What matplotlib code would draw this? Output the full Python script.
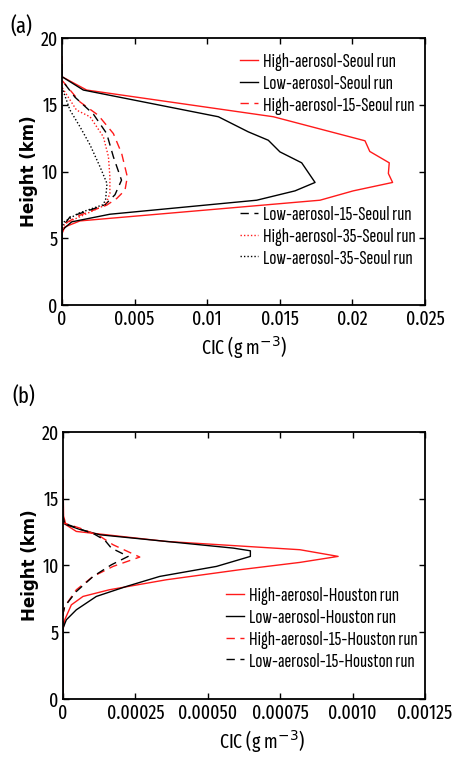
import matplotlib
matplotlib.use("Agg")
import matplotlib.pyplot as plt

NARROW = ['Fira Sans Extra Condensed', 'PT Sans Narrow', 'DejaVu Sans']
LEGFONT = ['Sofia Sans Extra Condensed', 'Fira Sans Extra Condensed', 'DejaVu Sans']
plt.rcParams['font.family'] = NARROW

# ---------------- Panel (a): Seoul ----------------
h_hi_seoul = [0, 5.35, 5.85, 6.3, 7.85, 8.55, 9.18, 9.85, 10.65, 11.5, 12.3, 14.1, 16.1, 17.1, 18.6]
x_hi_seoul = [0, 0, 0.0002, 0.00124, 0.01777, 0.02006, 0.02277, 0.02248, 0.02254, 0.0212, 0.02087, 0.01456, 0.0017, 0, 0]

h_lo_seoul = [0, 5.6, 6.23, 6.8, 7.85, 8.55, 9.18, 10.65, 11.47, 12.34, 12.97, 14.1, 16.1, 17.1, 18.0]
x_lo_seoul = [0, 0, 0.00067, 0.0033, 0.01341, 0.01605, 0.01743, 0.01651, 0.01501, 0.01421, 0.01283, 0.01077, 0.00147, 0, 0]

h_hi15_seoul = [0, 5.6, 6.1, 6.73, 7.48, 7.98, 8.6, 9.6, 11.35, 12.84, 14.21, 15.21, 16.83]
x_hi15_seoul = [0, 0, 0.0002, 0.00124, 0.00308, 0.00377, 0.00434, 0.0045, 0.00411, 0.00354, 0.0025, 0.00124, 0]

h_lo15_seoul = [0, 5.8, 6.6, 7.5, 8.26, 9.35, 11.1, 12.84, 14.3, 15.56, 16.83]
x_lo15_seoul = [0, 0, 0.00055, 0.00296, 0.00365, 0.0041, 0.00354, 0.00308, 0.00216, 0.0009, 0]

h_hi35_seoul = [0, 5.6, 6.1, 6.73, 7.5, 8.35, 9.6, 11.1, 12.6, 14.1, 14.6, 16.3]
x_hi35_seoul = [0, 0, 0.0002, 0.00147, 0.003, 0.0033, 0.0033, 0.0032, 0.00285, 0.00193, 0.001, 0]

h_lo35_seoul = [0, 5.6, 6.2, 6.86, 7.5, 7.85, 9.1, 10.35, 12.0, 13.35, 14.6, 16.3]
x_lo35_seoul = [0, 0, 0.0001, 0.0011, 0.0028, 0.0030, 0.0031, 0.00262, 0.00193, 0.00124, 0.00055, 0]

# ---------------- Panel (b): Houston ----------------
h_hi_hou = [0, 5.2, 5.93, 7.05, 7.68, 8.18, 8.93, 9.68, 10.23, 10.68, 11.18, 11.8, 12.55, 13.05, 13.7, 16.4]
x_hi_hou = [0, 0, 0.000006, 0.0000288, 0.000069, 0.00016, 0.000357, 0.00061, 0.000818, 0.00095, 0.000818, 0.000357, 0.000046, 0.00001, 0.000002, 0]

h_lo_hou = [0, 5.3, 5.93, 6.68, 7.68, 8.43, 9.18, 9.93, 10.68, 11.1, 11.3, 11.8, 12.3, 12.7, 13.1, 13.7, 15.0]
x_lo_hou = [0, 0, 0.0000115, 0.000046, 0.000115, 0.000219, 0.000334, 0.00053, 0.000647, 0.000647, 0.000588, 0.000357, 0.000127, 0.000058, 0.000006, 0, 0]

h_hi15_hou = [0, 6.4, 6.93, 8.18, 9.18, 9.93, 10.63, 11.55, 12.2, 12.8, 13.2, 16.4]
x_hi15_hou = [0, 0, 0.000006, 0.000046, 0.000104, 0.000173, 0.000265, 0.000173, 0.000127, 0.000058, 0, 0]

h_lo15_hou = [0, 6.4, 6.93, 8.05, 9.18, 10.05, 10.68, 11.3, 11.9, 12.4, 12.73, 13.2, 15.0]
x_lo15_hou = [0, 0, 0.0000058, 0.000046, 0.000104, 0.000167, 0.000225, 0.000167, 0.000144, 0.000104, 0.000058, 0, 0]

xticks_a = [0, 0.005, 0.01, 0.015, 0.02, 0.025]
xticklabels_a = ['0', '0.005', '0.01', '0.015', '0.02', '0.025']
xticks_b = [0, 0.00025, 0.0005, 0.00075, 0.001, 0.00125]
xticklabels_b = ['0', '0.00025', '0.00050', '0.00075', '0.0010', '0.00125']
yticks = [0, 5, 10, 15, 20]

fig = plt.figure(figsize=(4.65, 7.67), dpi=100)
ax1 = fig.add_axes([0.1333, 0.6023, 0.7806, 0.3482])
ax2 = fig.add_axes([0.1355, 0.0887, 0.7785, 0.3481])

RED = '#ff1a1a'
lw = 1.0
dash = (0, (6, 4))
dot = (0, (1, 1.5))


def style(ax, xticks, xlabels, xmax):
    ax.set_xlim(0, xmax)
    ax.set_ylim(0, 20)
    ax.set_xticks(xticks)
    ax.set_xticklabels(xlabels)
    ax.set_yticks(yticks)
    ax.tick_params(direction='in', top=True, right=True, length=4, width=1,
                   labelsize=14, pad=3)
    for s in ax.spines.values():
        s.set_linewidth(1.3)
    ax.set_ylabel('Height (km)', family='DejaVu Sans', fontsize=12, fontweight='bold',
                  labelpad=2)
    ax.set_xlabel('CIC (g m$^{-3}$)', fontsize=14, labelpad=4)


la1, = ax1.plot(x_hi_seoul, h_hi_seoul, color=RED, lw=lw)
la2, = ax1.plot(x_lo_seoul, h_lo_seoul, color='black', lw=lw)
la3, = ax1.plot(x_hi15_seoul, h_hi15_seoul, color=RED, lw=lw, linestyle=dash)
la4, = ax1.plot(x_lo15_seoul, h_lo15_seoul, color='black', lw=lw, linestyle=dash)
la5, = ax1.plot(x_hi35_seoul, h_hi35_seoul, color=RED, lw=lw, linestyle=dot)
la6, = ax1.plot(x_lo35_seoul, h_lo35_seoul, color='black', lw=lw, linestyle=dot)
style(ax1, xticks_a, xticklabels_a, 0.025)

leg_kw = dict(frameon=False, prop={'family': LEGFONT, 'size': 15}, handlelength=0.85,
              handletextpad=0.25, labelspacing=0.15, borderpad=0.0, borderaxespad=0.0)
leg1 = ax1.legend([la1, la2, la3], ['High-aerosol-Seoul run', 'Low-aerosol-Seoul run',
                                    'High-aerosol-15-Seoul run'],
                  loc='upper left', bbox_to_anchor=(0.49, 0.945), **leg_kw)
ax1.add_artist(leg1)
ax1.legend([la4, la5, la6], ['Low-aerosol-15-Seoul run', 'High-aerosol-35-Seoul run',
                             'Low-aerosol-35-Seoul run'],
           loc='upper left', bbox_to_anchor=(0.49, 0.372), **leg_kw)

lb1, = ax2.plot(x_hi_hou, h_hi_hou, color=RED, lw=lw)
lb2, = ax2.plot(x_lo_hou, h_lo_hou, color='black', lw=lw)
lb3, = ax2.plot(x_hi15_hou, h_hi15_hou, color=RED, lw=lw, linestyle=dash)
lb4, = ax2.plot(x_lo15_hou, h_lo15_hou, color='black', lw=lw, linestyle=dash)
style(ax2, xticks_b, xticklabels_b, 0.00125)
ax2.legend([lb1, lb2, lb3, lb4], ['High-aerosol-Houston run', 'Low-aerosol-Houston run',
                                  'High-aerosol-15-Houston run', 'Low-aerosol-15-Houston run'],
           loc='upper left', bbox_to_anchor=(0.45, 0.42), **leg_kw)
ax2.xaxis.set_label_coords(0.55, -0.11)

fig.text(0.022, 0.965, '(a)', fontsize=16, va='center', ha='left')
fig.text(0.027, 0.482, '(b)', fontsize=16, va='center', ha='left')

fig.savefig('out.png', dpi=100)
